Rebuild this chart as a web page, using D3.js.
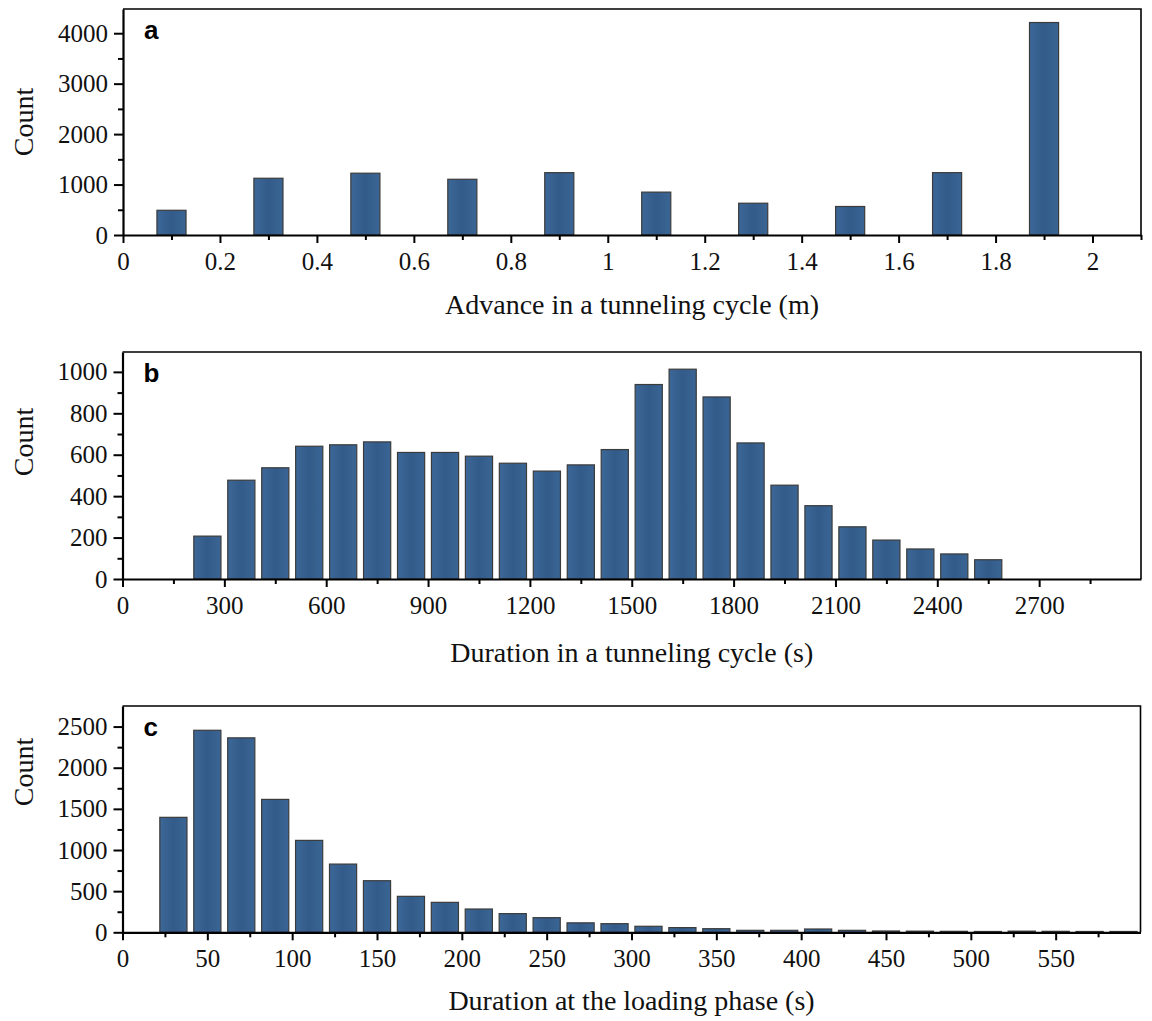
<!DOCTYPE html>
<html>
<head>
<meta charset="utf-8">
<script src="https://cdn.jsdelivr.net/npm/d3@7"></script>
<style>
  body { margin: 0; background: #fff; }
  svg { display: block; }
  .tick text { font-family: "Liberation Serif", "Times New Roman", serif; }
</style>
</head>
<body>
<div id="chart"></div>
<script>
// panel a - advance per cycle (m)
var advanceBins   = [0.1, 0.3, 0.5, 0.7, 0.9, 1.1, 1.3, 1.5, 1.7, 1.9];
var advanceCounts = [490, 1125, 1225, 1105, 1236, 850, 630, 565, 1236, 4212];
var advanceXTicks = [0, 0.2, 0.4, 0.6, 0.8, 1, 1.2, 1.4, 1.6, 1.8, 2];
var advanceYTicks = [0, 1000, 2000, 3000, 4000];

// panel b - cycle duration (s)
var cycleBins   = [250, 350, 450, 550, 650, 750, 850, 950, 1050, 1150, 1250, 1350,
                   1450, 1550, 1650, 1750, 1850, 1950, 2050, 2150, 2250, 2350, 2450, 2550];
var cycleCounts = [207, 477, 537, 641, 648, 662, 611, 611, 593, 559, 521, 551,
                   625, 939, 1013, 879, 657, 453, 354, 252, 188, 145, 121, 93];
var cycleXTicks = [0, 300, 600, 900, 1200, 1500, 1800, 2100, 2400, 2700];
var cycleYTicks = [0, 200, 400, 600, 800, 1000];

// panel c - loading phase duration (s)
var loadingBins   = [30, 50, 70, 90, 110, 130, 150, 170, 190, 210, 230, 250, 270, 290, 310,
                     330, 350, 370, 390, 410, 430, 450, 470, 490, 510, 530, 550, 570, 590];
var loadingCounts = [1397, 2455, 2363, 1615, 1117, 829, 627, 437, 364, 283, 227, 178, 115, 105, 73,
                     57, 44, 24, 24, 40, 24, 16, 14, 12, 10, 14, 12, 10, 10];
var loadingXTicks = [0, 50, 100, 150, 200, 250, 300, 350, 400, 450, 500, 550];
var loadingYTicks = [0, 500, 1000, 1500, 2000, 2500];

var W = 1152, H = 1021;

var svg = d3.select("#chart").append("svg")
    .attr("width", W)
    .attr("height", H);

// bar fill: slight horizontal shading like the original
var grad = svg.append("defs").append("linearGradient")
    .attr("id", "barFill")
    .attr("x1", "0").attr("x2", "1").attr("y1", "0").attr("y2", "0");
grad.append("stop").attr("offset", "0%").attr("stop-color", "#3c6797");
grad.append("stop").attr("offset", "50%").attr("stop-color", "#335b89");
grad.append("stop").attr("offset", "100%").attr("stop-color", "#3a6594");

var panels = [
  { letter: "a", bins: advanceBins, counts: advanceCounts, xTicks: advanceXTicks, yTicks: advanceYTicks,
    xMax: 2.1, yMax: 4480, xMinor: 0.1, yMinor: 500, barW: 0.06,
    left: 123, right: 1141, top: 9, bottom: 235,
    xTitle: "Advance in a tunneling cycle (m)", xTitleY: 314, countY: 122 },
  { letter: "b", bins: cycleBins, counts: cycleCounts, xTicks: cycleXTicks, yTicks: cycleYTicks,
    xMax: 3000, yMax: 1096, xMinor: 150, yMinor: 100, barW: 80,
    left: 122.5, right: 1141, top: 352, bottom: 579,
    xTitle: "Duration in a tunneling cycle (s)", xTitleY: 662, countY: 442 },
  { letter: "c", bins: loadingBins, counts: loadingCounts, xTicks: loadingXTicks, yTicks: loadingYTicks,
    xMax: 600, yMax: 2750, xMinor: 25, yMinor: 250, barW: 16,
    left: 122.5, right: 1140.5, top: 706, bottom: 932.3,
    xTitle: "Duration at the loading phase (s)", xTitleY: 1010, countY: 772 }
];

var fmt = function(d) { return String(d); };

panels.forEach(function(p) {
  var x = d3.scaleLinear().domain([0, p.xMax]).range([p.left, p.right]);
  var y = d3.scaleLinear().domain([0, p.yMax]).range([p.bottom, p.top]);

  var g = svg.append("g");

  // minor tick positions (half steps)
  var xMinorVals = d3.range(p.xMinor, p.xMax + 1e-9, p.xMinor * 2);
  var yMinorVals = d3.range(p.yMinor, p.yMax, p.yMinor * 2);

  // bars
  var data = p.bins.map(function(b, i) { return { x: b, c: p.counts[i] }; });
  g.selectAll(".bar")
      .data(data)
    .enter().append("rect")
      .attr("class", "bar")
      .attr("x", function(d) { return x(d.x - p.barW / 2); })
      .attr("width", function(d) { return x(d.x + p.barW / 2) - x(d.x - p.barW / 2); })
      .attr("y", function(d) { return y(d.c); })
      .attr("height", function(d) { return y(0) - y(d.c); })
      .attr("fill", "url(#barFill)")
      .attr("stroke", "#3b3b3b")
      .attr("stroke-width", 1.2);

  // frame (top + right)
  g.append("path")
      .attr("d", "M" + p.left + "," + p.top + "H" + p.right + "V" + p.bottom)
      .attr("fill", "none")
      .attr("stroke", "#000")
      .attr("stroke-width", 1.6);

  // x minor ticks
  g.append("g")
      .attr("transform", "translate(0," + p.bottom + ")")
      .call(d3.axisBottom(x).tickValues(xMinorVals).tickSize(5).tickFormat(""))
      .call(function(s) { s.select(".domain").remove(); s.selectAll("line").attr("stroke-width", 2); });

  // x major axis
  g.append("g")
      .attr("transform", "translate(0," + p.bottom + ")")
      .call(d3.axisBottom(x).tickValues(p.xTicks).tickSize(8).tickSizeOuter(0).tickPadding(9).tickFormat(fmt))
      .call(function(s) {
        s.select(".domain").attr("stroke-width", 2.2);
        s.selectAll("line").attr("stroke-width", 2);
        s.selectAll("text").attr("font-size", 25).attr("fill", "#111");
      });

  // y minor ticks
  g.append("g")
      .attr("transform", "translate(" + p.left + ",0)")
      .call(d3.axisLeft(y).tickValues(yMinorVals).tickSize(5).tickFormat(""))
      .call(function(s) { s.select(".domain").remove(); s.selectAll("line").attr("stroke-width", 2); });

  // y major axis
  g.append("g")
      .attr("transform", "translate(" + p.left + ",0)")
      .call(d3.axisLeft(y).tickValues(p.yTicks).tickSize(9).tickSizeOuter(0).tickPadding(6).tickFormat(fmt))
      .call(function(s) {
        s.select(".domain").attr("stroke-width", 2.2);
        s.selectAll("line").attr("stroke-width", 2);
        s.selectAll("text").attr("font-size", 25).attr("fill", "#111");
      });

  // axis titles
  g.append("text")
      .attr("x", (p.left + p.right) / 2)
      .attr("y", p.xTitleY)
      .attr("text-anchor", "middle")
      .attr("font-family", "Liberation Serif, Times New Roman, serif")
      .attr("font-size", 28)
      .attr("fill", "#111")
      .text(p.xTitle);

  g.append("text")
      .attr("transform", "translate(33," + p.countY + ") rotate(-90)")
      .attr("text-anchor", "middle")
      .attr("font-family", "Liberation Serif, Times New Roman, serif")
      .attr("font-size", 28)
      .attr("fill", "#111")
      .text("Count");

  // panel letter
  g.append("text")
      .attr("x", p.left + 21)
      .attr("y", p.top + 30)
      .attr("font-family", "Liberation Sans, Arial, sans-serif")
      .attr("font-weight", "bold")
      .attr("font-size", 26)
      .attr("fill", "#000")
      .text(p.letter);
});
</script>
</body>
</html>
